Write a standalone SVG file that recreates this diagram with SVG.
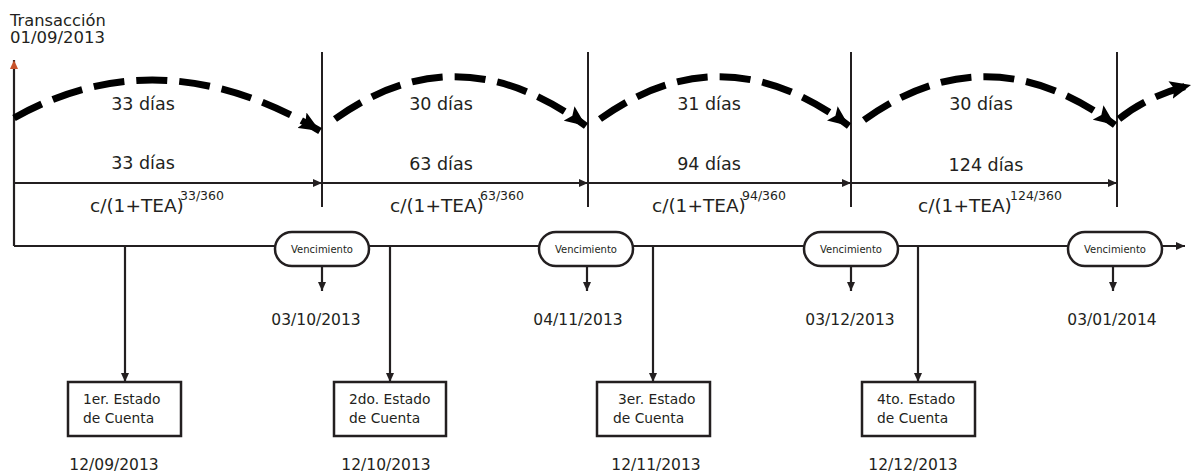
<svg xmlns="http://www.w3.org/2000/svg" width="1193" height="472" viewBox="0 0 1193 472">
<style>
text{font-family:"DejaVu Sans","Liberation Sans",sans-serif;fill:#231f20}
.ln{stroke:#231f20;stroke-width:2.2;fill:none}
.thin{stroke:#231f20;stroke-width:2;fill:none}
.arc{stroke:#000;stroke-width:7;fill:none;stroke-dasharray:31 12}
.pill{fill:#fff;stroke:#231f20;stroke-width:2.5}
.box{fill:#fff;stroke:#231f20;stroke-width:2.5}
.lbl{font-size:17.5px;text-anchor:middle}
.frm{font-size:18.5px}
.sup{font-size:12.5px}
.date{font-size:15.5px;text-anchor:middle}
.ven{font-size:10px;text-anchor:middle}
.bx{font-size:13.8px}
</style>
<defs>
<marker id="ah" markerUnits="userSpaceOnUse" markerWidth="9" markerHeight="8" refX="9" refY="4" orient="auto"><path d="M0,0 L9,4 L0,8 z" fill="#231f20"/></marker>
<marker id="ahO" markerUnits="userSpaceOnUse" markerWidth="9" markerHeight="8" refX="9" refY="4" orient="auto"><path d="M0,0 L9,4 L0,8 z" fill="#c8532b"/></marker>
<marker id="big" markerUnits="userSpaceOnUse" markerWidth="22" markerHeight="18" refX="21" refY="9" orient="auto"><path d="M0,0 L21,9 L0,18 L4,9 z" fill="#000"/></marker>
</defs>

<g id="connectors">
  <path class="ln" d="M14,246 V60" marker-end="url(#ahO)"/>
  <path class="ln" d="M14,246 H1185" marker-end="url(#ah)"/>
  <path class="thin" d="M322,52 V207 M588,52 V207 M851,52 V207 M1117,52 V207"/>
  <path class="thin" d="M14,183 H322" marker-end="url(#ah)"/>
  <path class="thin" d="M322,183 H588" marker-end="url(#ah)"/>
  <path class="thin" d="M588,183 H851" marker-end="url(#ah)"/>
  <path class="thin" d="M851,183 H1117" marker-end="url(#ah)"/>
  <path class="arc" d="M14,118 Q160,36 320,131" marker-end="url(#big)"/>
  <path class="arc" d="M335,119 Q458,31 586,126" marker-end="url(#big)"/>
  <path class="arc" d="M600,119 Q723,31 849,126" marker-end="url(#big)"/>
  <path class="arc" d="M864,120 Q988,31 1115,125" marker-end="url(#big)"/>
  <path class="arc" d="M1119,119 Q1147,96 1191,85" marker-end="url(#big)"/>
  <path class="ln" d="M125,246 V382" marker-end="url(#ah)"/>
  <path class="ln" d="M390,246 V382" marker-end="url(#ah)"/>
  <path class="ln" d="M653,246 V382" marker-end="url(#ah)"/>
  <path class="ln" d="M918,246 V382" marker-end="url(#ah)"/>
  <path class="ln" d="M322,266 V291" marker-end="url(#ah)"/>
  <path class="ln" d="M587,266 V291" marker-end="url(#ah)"/>
  <path class="ln" d="M851,266 V291" marker-end="url(#ah)"/>
  <path class="ln" d="M1113,266 V291" marker-end="url(#ah)"/>
</g>

<g id="origin">
  <text x="10" y="26" style="font-size:16.3px">Transacción</text>
  <text x="10" y="43" style="font-size:16.5px">01/09/2013</text>
</g>

<g id="seg1">
  <text class="lbl" x="143" y="110">33 días</text>
  <text class="lbl" x="143" y="169">33 días</text>
  <text class="frm" x="90" y="212">c/(1+TEA)</text>
  <text class="sup" x="180" y="200">33/360</text>
</g>
<g id="seg2">
  <text class="lbl" x="441" y="110">30 días</text>
  <text class="lbl" x="441" y="170">63 días</text>
  <text class="frm" x="390" y="212">c/(1+TEA)</text>
  <text class="sup" x="480" y="200">63/360</text>
</g>
<g id="seg3">
  <text class="lbl" x="709" y="110">31 días</text>
  <text class="lbl" x="709" y="170">94 días</text>
  <text class="frm" x="652" y="212">c/(1+TEA)</text>
  <text class="sup" x="742" y="200">94/360</text>
</g>
<g id="seg4">
  <text class="lbl" x="981" y="110">30 días</text>
  <text class="lbl" x="986" y="171">124 días</text>
  <text class="frm" x="918" y="212">c/(1+TEA)</text>
  <text class="sup" x="1010" y="200">124/360</text>
</g>

<g id="venc1">
  <rect class="pill" x="275" y="232" width="94" height="34" rx="17"/>
  <text class="ven" x="322" y="253">Vencimiento</text>
  <text class="date" x="316" y="325">03/10/2013</text>
</g>
<g id="venc2">
  <rect class="pill" x="539" y="232" width="94" height="34" rx="17"/>
  <text class="ven" x="586" y="253">Vencimiento</text>
  <text class="date" x="578" y="325">04/11/2013</text>
</g>
<g id="venc3">
  <rect class="pill" x="804" y="232" width="94" height="34" rx="17"/>
  <text class="ven" x="851" y="253">Vencimiento</text>
  <text class="date" x="850" y="325">03/12/2013</text>
</g>
<g id="venc4">
  <rect class="pill" x="1068" y="232" width="94" height="34" rx="17"/>
  <text class="ven" x="1115" y="253">Vencimiento</text>
  <text class="date" x="1112" y="325">03/01/2014</text>
</g>

<g id="estado1">
  <rect class="box" x="68" y="382" width="113" height="54"/>
  <text class="bx" x="83" y="404">1er. Estado</text>
  <text class="bx" x="83" y="423">de Cuenta</text>
  <text class="date" x="114" y="470">12/09/2013</text>
</g>
<g id="estado2">
  <rect class="box" x="334" y="382" width="112" height="54"/>
  <text class="bx" x="349" y="404">2do. Estado</text>
  <text class="bx" x="349" y="423">de Cuenta</text>
  <text class="date" x="386" y="470">12/10/2013</text>
</g>
<g id="estado3">
  <rect class="box" x="597" y="382" width="113" height="54"/>
  <text class="bx" x="618" y="404">3er. Estado</text>
  <text class="bx" x="613" y="423">de Cuenta</text>
  <text class="date" x="656" y="470">12/11/2013</text>
</g>
<g id="estado4">
  <rect class="box" x="862" y="382" width="113" height="54"/>
  <text class="bx" x="877" y="404">4to. Estado</text>
  <text class="bx" x="877" y="423">de Cuenta</text>
  <text class="date" x="913" y="470">12/12/2013</text>
</g>
</svg>
